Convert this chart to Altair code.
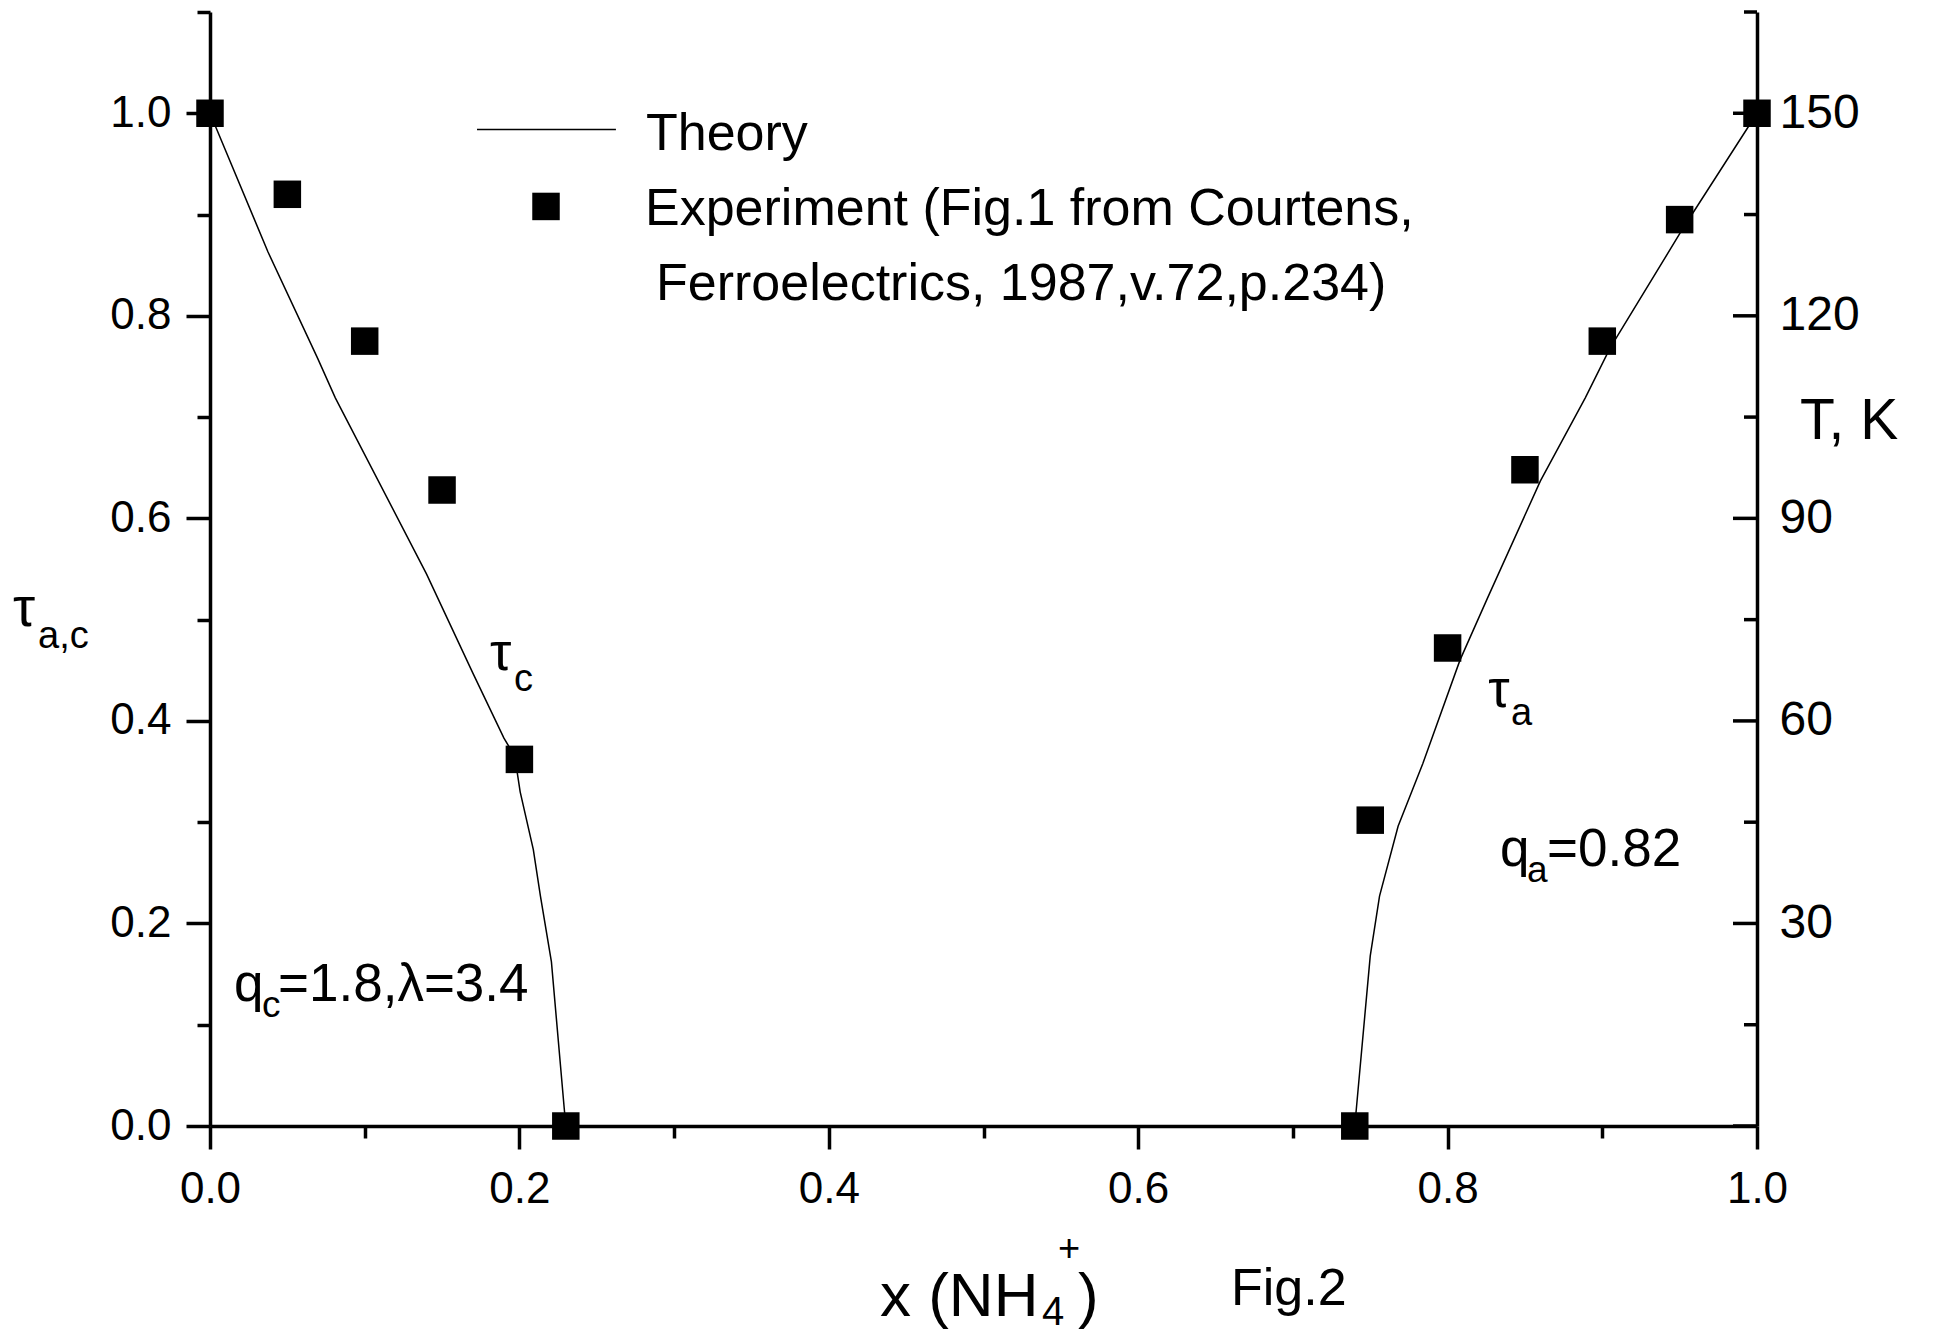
import altair as alt
import pandas as pd

# ---------------- data ----------------
x_theory_c = [0.0, 0.0375, 0.0696, 0.081, 0.140, 0.170, 0.190, 0.197, 0.2005, 0.209, 0.2136, 0.2207, 0.229, 0.23]
tau_theory_c = [1.0, 0.863, 0.758, 0.719, 0.545, 0.447, 0.383, 0.365, 0.33, 0.273, 0.227, 0.162, 0.017, 0.0]
x_theory_a = [0.740, 0.750, 0.756, 0.768, 0.784, 0.808, 0.826, 0.860, 0.889, 0.905, 0.952, 1.0]
tau_theory_a = [0.0, 0.168, 0.227, 0.296, 0.358, 0.46, 0.522, 0.637, 0.719, 0.768, 0.886, 1.0]

x_exp = [0.0, 0.05, 0.10, 0.15, 0.20, 0.23, 0.74, 0.75, 0.80, 0.85, 0.90, 0.95, 1.0]
tau_exp = [1.0, 0.92, 0.775, 0.628, 0.362, 0.0, 0.0, 0.302, 0.472, 0.648, 0.775, 0.895, 1.0]

x_ticks = [0.0, 0.1, 0.2, 0.3, 0.4, 0.5, 0.6, 0.7, 0.8, 0.9, 1.0]
tau_ticks = [0.0, 0.1, 0.2, 0.3, 0.4, 0.5, 0.6, 0.7, 0.8, 0.9, 1.0, 1.1]
T_labels = [30, 60, 90, 120, 150]
T_major = [0, 30, 60, 90, 120, 150]
T_minor = [15, 45, 75, 105, 135, 165]

legend_line_x = [0.1726]
legend_line_x2 = [0.2624]
legend_line_tau = [0.984]
legend_sq_x = [0.2172]
legend_sq_tau = [0.908]
legend_text = ["Theory", "Experiment (Fig.1 from Courtens,", "Ferroelectrics, 1987,v.72,p.234)"]
legend_text_x = [0.2818, 0.2812, 0.2883]
legend_text_tau = [0.964, 0.890, 0.816]

# ---------------- style ----------------
FONT = "Liberation Sans"
W = 1547
H = 1114
AX_W = 3.5
SQ = 756

xscale = alt.Scale(domain=[0, 1], nice=False, zero=False)
yscale = alt.Scale(domain=[0, 1.1], nice=False, zero=False)
Tscale = alt.Scale(domain=[0, 165], nice=False, zero=False)

x_axis = alt.Axis(
    values=x_ticks, title=None, grid=False,
    domainColor="black", domainWidth=AX_W,
    tickColor="black", tickWidth=AX_W,
    tickSize={"condition": {"test": "round(datum.value*10) % 2 == 1", "value": 12}, "value": 23},
    labelExpr="round(datum.value*10) % 2 == 0 ? format(datum.value, '.1f') : ''",
    labelFont=FONT, labelFontSize=44, labelColor="black", labelPadding=18,
    labelFlush=False, labelOverlap=False,
)
y_axis = alt.Axis(
    values=tau_ticks, title=None, grid=False,
    domainColor="black", domainWidth=AX_W,
    tickColor="black", tickWidth=AX_W,
    tickSize={"condition": {"test": "round(datum.value*10) % 2 == 1", "value": 13}, "value": 24},
    labelExpr="round(datum.value*10) % 2 == 0 ? format(datum.value, '.1f') : ''",
    labelFont=FONT, labelFontSize=44, labelColor="black", labelPadding=15,
    labelFlush=False, labelOverlap=False,
)
T_axis = alt.Axis(
    orient="right", values=T_labels, title=None, grid=False,
    domainColor="black", domainWidth=AX_W, ticks=False,
    labelFont=FONT, labelFontSize=48, labelColor="black", labelPadding=22,
    labelFlush=False, labelOverlap=False,
)


def X(field="x"):
    return alt.X(f"{field}:Q", scale=xscale, axis=x_axis)


def Y(field="tau"):
    return alt.Y(f"{field}:Q", scale=yscale, axis=y_axis)


# ---------------- theory lines ----------------
theory_df = pd.concat([
    pd.DataFrame({"x": x_theory_c, "tau": tau_theory_c, "branch": "c", "order": range(len(x_theory_c))}),
    pd.DataFrame({"x": x_theory_a, "tau": tau_theory_a, "branch": "a", "order": range(len(x_theory_a))}),
])
lines = alt.Chart(theory_df).mark_line(color="black", strokeWidth=1.5).encode(
    x=X(), y=Y(), detail="branch:N", order="order:Q"
)

exp_df = pd.DataFrame({"x": x_exp, "tau": tau_exp})
squares = alt.Chart(exp_df).mark_square(color="black", size=SQ, opacity=1).encode(x=X(), y=Y())

# ---------------- legend ----------------
leg_line = alt.Chart(pd.DataFrame({"x": legend_line_x, "x2": legend_line_x2, "tau": legend_line_tau})).mark_rule(
    color="black", strokeWidth=1.5
).encode(x=X(), x2="x2:Q", y=Y())
leg_sq = alt.Chart(pd.DataFrame({"x": legend_sq_x, "tau": legend_sq_tau})).mark_square(
    color="black", size=SQ, opacity=1
).encode(x=X(), y=Y())
leg_txt = alt.Chart(pd.DataFrame({"x": legend_text_x, "tau": legend_text_tau, "t": legend_text})).mark_text(
    align="left", baseline="alphabetic", font=FONT, fontSize=52, color="black"
).encode(x=X(), y=Y(), text="t:N")


def data_text(xs, taus, texts, size):
    return alt.Chart(pd.DataFrame({"x": xs, "tau": taus, "t": texts})).mark_text(
        align="left", baseline="alphabetic", font=FONT, fontSize=size, color="black"
    ).encode(x=X(), y=Y(), text="t:N")


def px_text(px, py, text, size):
    return alt.Chart(pd.DataFrame({"t": [text]})).mark_text(
        align="left", baseline="alphabetic", font=FONT, fontSize=size, color="black"
    ).encode(x=alt.value(px), y=alt.value(py), text="t:N")


# in-plot annotations (data coordinates)
ann_tau = data_text([0.1810, 0.8262], [0.450, 0.4136], ["τ", "τ"], 54)
ann_sub_small = data_text([0.1965, 0.8410], [0.430, 0.3958], ["c", "a"], 38)
ann_q = data_text([0.8339, 0.0155], [0.2567, 0.1234], ["q", "q"], 53)
ann_q_sub = data_text([0.8513, 0.0336], [0.2409, 0.1076], ["a", "c"], 37)
ann_q_rest = data_text([0.8643, 0.044], [0.2567, 0.1234], ["=0.82", "=1.8,λ=3.4"], 53)

# outside annotations (pixel positions relative to plot origin)
ytitle_tau = px_text(-197, 614, "τ", 56)
ytitle_sub = px_text(-172, 636, "a,c", 38)
xtitle_main = px_text(670, 1304, "x (NH", 62)
xtitle_4 = px_text(832, 1313, "4", 40)
xtitle_plus = px_text(848, 1249, "+", 38)
xtitle_close = px_text(868, 1304, ")", 62)
fig2 = px_text(1021, 1293, "Fig.2", 52)
tk = px_text(1590, 427, "T, K", 57)

tau_group = alt.layer(
    lines, squares, leg_line, leg_sq, leg_txt,
    ann_tau, ann_sub_small, ann_q, ann_q_sub, ann_q_rest,
    ytitle_tau, ytitle_sub, xtitle_main, xtitle_4, xtitle_plus, xtitle_close, fig2, tk,
)

# right axis (temperature) with inward ticks
T_maj = alt.Chart(pd.DataFrame({"T": T_major})).mark_rule(color="black", strokeWidth=AX_W).encode(
    y=alt.Y("T:Q", scale=Tscale, axis=T_axis), x=alt.value(W - 24), x2=alt.value(W)
)
T_min = alt.Chart(pd.DataFrame({"T": T_minor})).mark_rule(color="black", strokeWidth=AX_W).encode(
    y=alt.Y("T:Q", scale=Tscale, axis=T_axis), x=alt.value(W - 13), x2=alt.value(W)
)
T_group = alt.layer(T_maj, T_min)

chart = alt.layer(tau_group, T_group).resolve_scale(y="independent").properties(
    width=W, height=H,
    autosize=alt.AutoSizeParams(type="none"),
    padding={"left": 202, "top": 4, "right": 170, "bottom": 213},
    background="white",
).configure_view(stroke=None)

chart.save("out.html", embed_options={"renderer": "svg", "actions": False})
